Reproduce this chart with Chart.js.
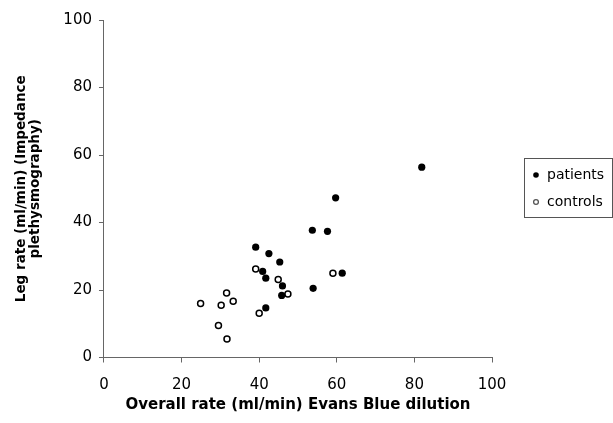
<!DOCTYPE html>
<html>
<head>
<meta charset="utf-8">
<script src="https://cdn.jsdelivr.net/npm/chart.js@4/dist/chart.umd.min.js"></script>
<style>
  html, body { margin: 0; padding: 0; background: #fff; }
  #wrap { width: 613px; height: 423px; }
</style>
</head>
<body>
<div id="wrap"><canvas id="scatter"></canvas></div>
<script>
// values
const patientsX = [39.1, 42.5, 45.3, 40.9, 41.7, 46.0, 45.8, 41.7, 53.9, 61.4, 81.9, 59.7, 53.7, 57.6];
const patientsY = [32.7, 30.8, 28.3, 25.5, 23.5, 21.2, 18.4, 14.7, 20.5, 25.0, 56.4, 47.3, 37.7, 37.4];
const controlsX = [39.1, 44.9, 47.4, 31.6, 33.3, 24.9, 30.2, 40.0, 29.5, 31.7, 59.0];
const controlsY = [26.2, 23.1, 18.8, 19.1, 16.7, 16.0, 15.5, 13.1, 9.5, 5.5, 25.0];
const seriesNames = ['patients', 'controls'];
const xTitle = 'Overall rate (ml/min) Evans Blue dilution';
const yTitle = ['Leg rate (ml/min) (Impedance', 'plethysmography)'];

const FONT = '"DejaVu Sans", Verdana, sans-serif';
const toPoints = (xs, ys) => xs.map((x, i) => ({ x: x, y: ys[i] }));

// legend box on the right, drawn by hand so it can have a frame
const boxLegend = {
    id: 'boxLegend',
    afterDraw(chart) {
        const ctx = chart.ctx;
        const left = 524, top = 158, w = 88, h = 59;
        ctx.save();
        ctx.strokeStyle = '#555';
        ctx.lineWidth = 1;
        ctx.strokeRect(left + 0.5, top + 0.5, w, h);
        ctx.font = '14px ' + FONT;
        ctx.fillStyle = '#000';
        ctx.textBaseline = 'middle';
        chart.data.datasets.forEach((ds, i) => {
            const cy = top + 17 + i * 27;
            ctx.beginPath();
            ctx.arc(left + 12, cy, i === 0 ? 2.8 : 2.4, 0, Math.PI * 2);
            if (i === 0) {
                ctx.fill();
            } else {
                ctx.lineWidth = 1.3;
                ctx.stroke();
            }
            ctx.fillText(ds.label, left + 23, cy);
        });
        ctx.restore();
    }
};

new Chart(document.getElementById('scatter'), {
    type: 'scatter',
    data: {
        datasets: [{
            label: seriesNames[0],
            data: toPoints(patientsX, patientsY),
            backgroundColor: '#000',
            borderColor: '#000',
            pointRadius: 3.6,
            borderWidth: 0
        }, {
            label: seriesNames[1],
            data: toPoints(controlsX, controlsY),
            backgroundColor: '#fff',
            borderColor: '#000',
            pointRadius: 3,
            borderWidth: 1.5
        }]
    },
    options: {
        responsive: true,
        maintainAspectRatio: false,
        animation: false,
        layout: { padding: { top: 20, right: 121, left: 14, bottom: 10 } },
        plugins: {
            legend: { display: false },
            tooltip: { enabled: false }
        },
        scales: {
            x: {
                min: 0, max: 100,
                ticks: { stepSize: 20, color: '#000', padding: 15, font: { size: 15, family: FONT, lineHeight: 1 } },
                grid: { drawOnChartArea: false, tickLength: 5, color: '#666' },
                border: { color: '#666' },
                title: { display: true, text: xTitle, color: '#000', padding: { top: -9.5, bottom: 0 }, font: { size: 15, weight: 'bold', family: FONT, lineHeight: 1 } }
            },
            y: {
                min: 0, max: 100,
                ticks: { stepSize: 20, color: '#000', padding: 7, font: { size: 15, family: FONT } },
                grid: { drawOnChartArea: false, tickLength: 5, color: '#666' },
                border: { color: '#666' },
                title: { display: true, text: yTitle, color: '#000', padding: { top: 0, bottom: 14 }, font: { size: 13.5, weight: 'bold', family: FONT, lineHeight: 1.05 } }
            }
        }
    },
    plugins: [boxLegend]
});
</script>
</body>
</html>
